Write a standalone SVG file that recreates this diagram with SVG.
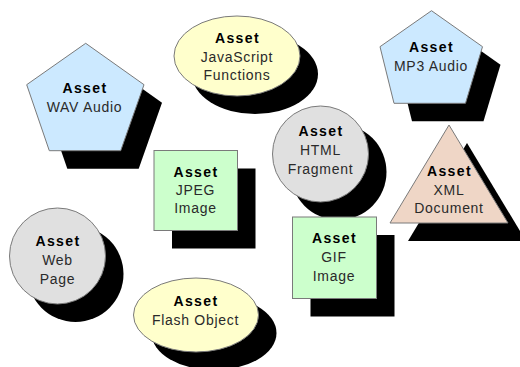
<svg xmlns="http://www.w3.org/2000/svg" width="520" height="367" viewBox="0 0 520 367">
<style>
.sh{fill:#000;stroke:none}
.sp{stroke:#7a7a7a;stroke-width:1}
.blue{fill:#cce9ff}
.yel{fill:#ffffcc}
.gray{fill:#e0e0e0}
.grn{fill:#ccffcc}
.pink{fill:#efd6c6}
text{font-family:"Liberation Sans",Arial,sans-serif;font-size:14px;text-anchor:middle;fill:#2a2a2a}
.t{font-weight:bold;letter-spacing:1.4px;fill:#000}
.l{letter-spacing:0.7px}
</style>
<rect width="520" height="367" fill="#fff"/>
<g id="connectors"/>
<g id="wav">
<polygon class="sh" transform="translate(18,18)" points="85.7,43.3 144,84.7 120.7,150.7 49.3,150.7 26.7,84.7"/>
<polygon class="sp blue" points="85.7,43.3 144,84.7 120.7,150.7 49.3,150.7 26.7,84.7"/>
<text class="t" x="85" y="92.5">Asset</text>
<text class="l" x="84.5" y="111.5">WAV Audio</text>
</g>
<g id="javascript">
<ellipse class="sh" cx="255" cy="74" rx="63" ry="40"/>
<ellipse class="sp yel" cx="237" cy="56" rx="63" ry="40"/>
<text class="t" x="237.5" y="42.5">Asset</text>
<text class="l" x="237" y="61.5">JavaScript</text>
<text class="l" x="237" y="80">Functions</text>
</g>
<g id="mp3">
<polygon class="sh" transform="translate(18,18)" points="431.5,10.7 482.5,46.7 465.5,103.3 394,103.3 380,46.7"/>
<polygon class="sp blue" points="431.5,10.7 482.5,46.7 465.5,103.3 394,103.3 380,46.7"/>
<text class="t" x="431.5" y="51.5">Asset</text>
<text class="l" x="431" y="71">MP3 Audio</text>
</g>
<g id="html">
<circle class="sh" cx="338.5" cy="172" r="48"/>
<circle class="sp gray" cx="320.5" cy="154" r="48"/>
<text class="t" x="321" y="136">Asset</text>
<text class="l" x="320.5" y="155">HTML</text>
<text class="l" x="320.5" y="174">Fragment</text>
</g>
<g id="xml">
<polygon class="sh" transform="translate(18,18)" points="449,125 508,223 390,223"/>
<polygon class="sp pink" points="449,125 508,223 390,223"/>
<text class="t" x="449.5" y="175.5">Asset</text>
<text class="l" x="449" y="194.5">XML</text>
<text class="l" x="449" y="213.3">Document</text>
</g>
<g id="jpeg">
<rect class="sh" x="172" y="168.5" width="83.5" height="80"/>
<rect class="sp grn" x="154" y="150.5" width="83.5" height="80"/>
<text class="t" x="196" y="176.7">Asset</text>
<text class="l" x="195.5" y="195">JPEG</text>
<text class="l" x="195.5" y="213">Image</text>
</g>
<g id="gif">
<rect class="sh" x="310.5" y="235" width="84" height="81.5"/>
<rect class="sp grn" x="292.5" y="217" width="84" height="81.5"/>
<text class="t" x="334.5" y="243">Asset</text>
<text class="l" x="334" y="262">GIF</text>
<text class="l" x="334" y="281">Image</text>
</g>
<g id="webpage">
<circle class="sh" cx="75.5" cy="274" r="48"/>
<circle class="sp gray" cx="57.5" cy="256" r="48"/>
<text class="t" x="58" y="246">Asset</text>
<text class="l" x="57.5" y="265">Web</text>
<text class="l" x="57.5" y="284">Page</text>
</g>
<g id="flash">
<ellipse class="sh" cx="214" cy="333" rx="62.5" ry="37"/>
<ellipse class="sp yel" cx="196" cy="315" rx="62.5" ry="37"/>
<text class="t" x="196" y="305.5">Asset</text>
<text class="l" x="195.5" y="325">Flash Object</text>
</g>
</svg>
